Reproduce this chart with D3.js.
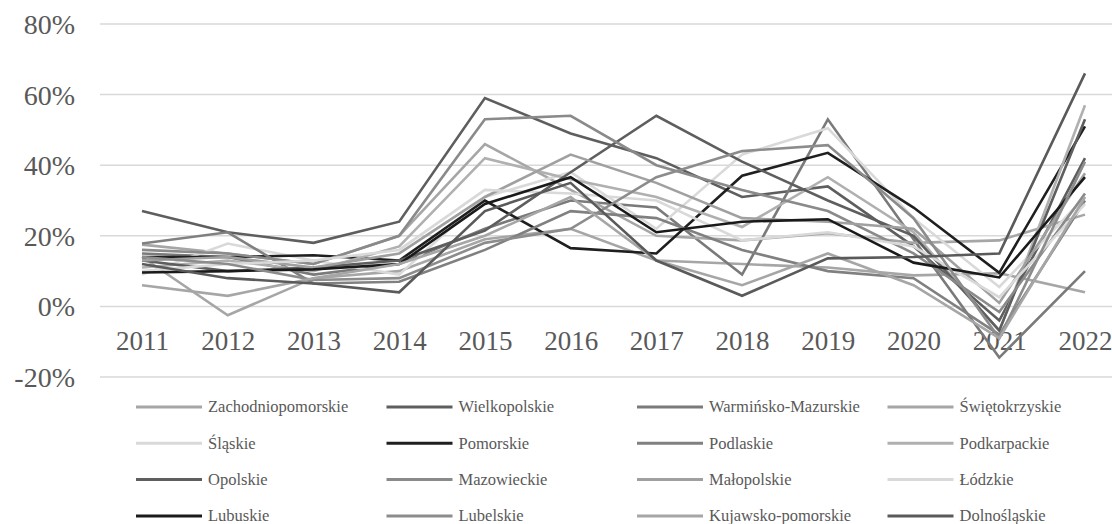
<!DOCTYPE html>
<html><head><meta charset="utf-8">
<script src="https://cdn.jsdelivr.net/npm/d3@7"></script>
<style>body{margin:0;background:#fff;} svg{display:block;}</style>
</head><body>
<svg id="chart" width="1112" height="524"></svg>
<script>
const years = ["2011","2012","2013","2014","2015","2016","2017","2018","2019","2020","2021","2022"];
const yTicks = [-20, 0, 20, 40, 60, 80];
const regions = ["Zachodniopomorskie","Wielkopolskie","Warmińsko-Mazurskie","Świętokrzyskie",
  "Śląskie","Pomorskie","Podlaskie","Podkarpackie",
  "Opolskie","Mazowieckie","Małopolskie","Łódzkie",
  "Lubuskie","Lubelskie","Kujawsko-pomorskie","Dolnośląskie"];
const colors = ["#a6a6a6","#5e5e5e","#7a7a7a","#a6a6a6",
  "#d9d9d9","#1f1f1f","#808080","#b0b0b0",
  "#5e5e5e","#8a8a8a","#a0a0a0","#d9d9d9",
  "#1a1a1a","#8c8c8c","#a6a6a6","#5a5a5a"];
const zachodniopomorskie = [14, -2.5, 8, 10, 19, 22, 13, 12, 11, 8.8, 9.4, 4];
const wielkopolskie      = [27, 21, 18, 24, 59, 49, 42, 31, 34, 17, -4, 42];
const warminskoMazurskie = [15, 14, 9, 12, 22, 30, 28, 9, 53, 19, -14.5, 10];
const swietokrzyskie     = [17.5, 15, 12, 20, 46, 33, 20, 18.7, 20.7, 18, 18.7, 26];
const slaskie            = [9, 17.8, 13, 9, 31, 38, 22, 43, 50.5, 25, 5.5, 31];
const pomorskie          = [14, 14, 14.5, 13, 30, 16.5, 15, 37, 43.5, 28, 9.5, 51];
const podlaskie          = [17.8, 21, 6.5, 7, 16, 27, 25, 16, 10, 8, -8, 30];
const podkarpackie       = [11, 13, 10, 17, 42, 36, 31, 22.5, 36.6, 21, -7, 57];
const opolskie           = [13, 10, 11, 13, 21.5, 38, 54, 41, 30, 20, -6.8, 53];
const mazowieckie        = [16, 15, 12, 20, 53, 54, 40, 33, 27, 15, -1.6, 32];
const malopolskie        = [13, 14, 11, 15, 31, 43, 35, 25, 24, 22, 1, 37.7];
const lodzkie            = [10, 12, 13, 16, 33, 32, 30, 18.7, 21, 17, 2.6, 29];
const lubuskie           = [9.6, 10, 10.5, 12, 29, 36.6, 21, 24, 24.7, 12.4, 8.2, 36.6];
const lubelskie          = [14, 12, 7.5, 8, 18, 22, 36.6, 44, 45.7, 25, -9, 41];
const kujawskoPomorskie  = [6, 3, 8, 12, 20, 31, 13, 6, 15, 6, -9, 31];
const dolnoslaskie       = [12, 8, 6.5, 4, 27, 35, 13, 3, 13.6, 14, 15, 66];
const seriesValues = [zachodniopomorskie, wielkopolskie, warminskoMazurskie, swietokrzyskie,
  slaskie, pomorskie, podlaskie, podkarpackie, opolskie, mazowieckie, malopolskie, lodzkie,
  lubuskie, lubelskie, kujawskoPomorskie, dolnoslaskie];

const svg = d3.select("#chart");
const x = d3.scalePoint().domain(years).range([142, 1085]);
const y = d3.scaleLinear().domain([-20, 80]).range([377, 24]);
const font = "Liberation Serif, Times New Roman, Times, serif";
const txt = "#595959";

svg.append("g").selectAll("line").data(yTicks).join("line")
  .attr("x1", 100).attr("x2", 1112)
  .attr("y1", d => y(d)).attr("y2", d => y(d))
  .attr("stroke", "#d9d9d9").attr("stroke-width", 1.5);

const yAxis = d3.axisLeft(y).tickValues(yTicks).tickSize(0).tickPadding(0).tickFormat(d => d + "%");
const gy = svg.append("g").attr("transform", "translate(75,0)").call(yAxis);
gy.attr("font-family", font).attr("font-size", 28);
gy.select(".domain").remove();
gy.selectAll("text").attr("fill", txt).attr("dy", "0.34em");

const xAxis = d3.axisBottom(x).tickSize(0).tickPadding(0);
const gx = svg.append("g").attr("transform", "translate(0,350)").call(xAxis);
gx.attr("font-family", font).attr("font-size", 27);
gx.select(".domain").remove();
gx.selectAll("text").attr("fill", txt).attr("dy", "0");

const line = d3.line().x((d, i) => x(years[i])).y(d => y(d));
svg.append("g").selectAll("path").data(seriesValues).join("path")
  .attr("d", d => line(d))
  .attr("fill", "none")
  .attr("stroke", (d, i) => colors[i])
  .attr("stroke-width", 2.6)
  .attr("stroke-linejoin", "miter");

const lg = svg.append("g").attr("font-family", font).attr("font-size", 16.5);
regions.forEach((name, i) => {
  const col = i % 4, row = Math.floor(i / 4);
  const lx = 136 + col * 250.5, ly = 407 + row * 36.3;
  lg.append("line").attr("x1", lx).attr("x2", lx + 66).attr("y1", ly).attr("y2", ly)
    .attr("stroke", colors[i]).attr("stroke-width", 3);
  lg.append("text").attr("x", lx + 72).attr("y", ly).attr("dy", "0.33em")
    .attr("fill", txt).text(name);
});
</script>
</body></html>
